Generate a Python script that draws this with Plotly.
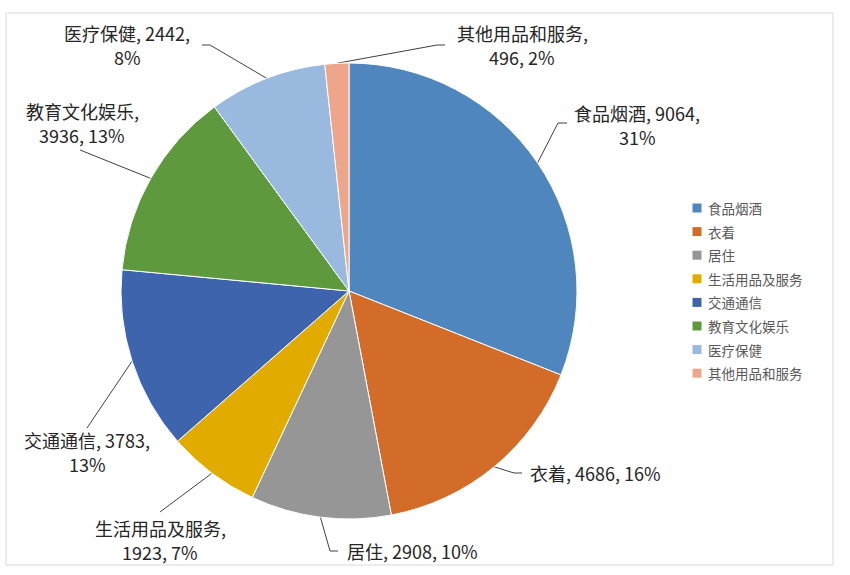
import math
import plotly.graph_objects as go

categories = ["食品烟酒", "衣着", "居住", "生活用品及服务", "交通通信", "教育文化娱乐", "医疗保健", "其他用品和服务"]
values = [9064, 4686, 2908, 1923, 3783, 3936, 2442, 496]
percent_labels = ["31%", "16%", "10%", "7%", "13%", "13%", "8%", "2%"]
colors = ["#4F86BE", "#D36C29", "#969696", "#E2AB00", "#3D64AD", "#5E993D", "#99B9DF", "#EEA68A"]

# label lines (as wrapped in the reference)
label_lines = [
    [f"{categories[0]}, {values[0]},", percent_labels[0]],
    [f"{categories[1]}, {values[1]}, {percent_labels[1]}"],
    [f"{categories[2]}, {values[2]}, {percent_labels[2]}"],
    [f"{categories[3]},", f"{values[3]}, {percent_labels[3]}"],
    [f"{categories[4]}, {values[4]},", percent_labels[4]],
    [f"{categories[5]},", f"{values[5]}, {percent_labels[5]}"],
    [f"{categories[6]}, {values[6]},", percent_labels[6]],
    [f"{categories[7]},", f"{values[7]}, {percent_labels[7]}"],
]

W, H = 850, 575
CX, CY, R = 349, 291, 228  # pie centre / radius in pixels
LINE_H = 24

# layout of labels (pixels): text centre, leader-line points near text
text_pos = [(637, 125), (595, 473), (412, 551), (160, 540), (87, 452), (82, 123), (127, 45), (522, 45)]
leader_pts = [
    [(558, 123), (567, 123)],
    [(514, 473), (522, 473)],
    [(330, 551), (338, 551)],
    [(160, 512)],
    [(87, 428)],
    [(80, 150)],
    [(210, 45), (202, 45)],
    [(437, 45), (445, 45)],
]

fig = go.Figure()

fig.add_trace(go.Pie(
    labels=categories, values=values, sort=False, direction="clockwise", rotation=0,
    marker=dict(colors=colors, line=dict(color="white", width=1)),
    textinfo="none", hoverinfo="label+value+percent", showlegend=False,
    domain=dict(x=[(CX - R) / W, (CX + R) / W], y=[(H - CY - R) / H, (H - CY + R) / H]),
))

total = sum(values)
cum = 0
annotations = []
label_font = dict(family="Noto Sans CJK SC, Noto Sans, sans-serif", size=18, color="#262626")
for i, v in enumerate(values):
    mid = (cum + v / 2) / total
    cum += v
    ang = 2 * math.pi * mid
    ax = CX + R * math.sin(ang)
    ay = CY - R * math.cos(ang)
    pts = [(ax, ay)] + leader_pts[i]
    fig.add_trace(go.Scatter(
        x=[p[0] for p in pts], y=[p[1] for p in pts], mode="lines",
        line=dict(color="#404040", width=1), hoverinfo="skip", showlegend=False,
    ))
    lines = label_lines[i]
    n = len(lines)
    for k, t in enumerate(lines):
        annotations.append(dict(
            x=text_pos[i][0], y=text_pos[i][1] + (k - (n - 1) / 2) * LINE_H,
            xref="x", yref="y", text=t, showarrow=False,
            xanchor="center", yanchor="middle", align="center", font=label_font,
        ))

# custom legend
leg_x = 697
leg_y0 = 208
leg_dy = 23.6
fig.add_trace(go.Scatter(
    x=[leg_x] * len(categories), y=[leg_y0 + i * leg_dy for i in range(len(categories))],
    mode="markers", marker=dict(symbol="square", size=9, color=colors),
    hoverinfo="skip", showlegend=False,
))
for i, c in enumerate(categories):
    annotations.append(dict(
        x=leg_x + 9, y=leg_y0 + i * leg_dy, xref="x", yref="y", text=c, showarrow=False,
        xanchor="left", yanchor="middle",
        font=dict(family="Noto Sans CJK SC, sans-serif", size=13.5, color="#595959"),
    ))

fig.update_layout(
    width=W, height=H, margin=dict(l=0, r=0, t=0, b=0),
    paper_bgcolor="white", plot_bgcolor="rgba(0,0,0,0)",
    xaxis=dict(range=[0, W], visible=False, fixedrange=True),
    yaxis=dict(range=[H, 0], visible=False, fixedrange=True),
    annotations=annotations,
    shapes=[dict(type="rect", xref="x", yref="y", x0=6, y0=13, x1=833, y1=565,
                 line=dict(color="#D9D9D9", width=1), fillcolor="rgba(0,0,0,0)", layer="below")],
)

fig.write_html("out.html")
